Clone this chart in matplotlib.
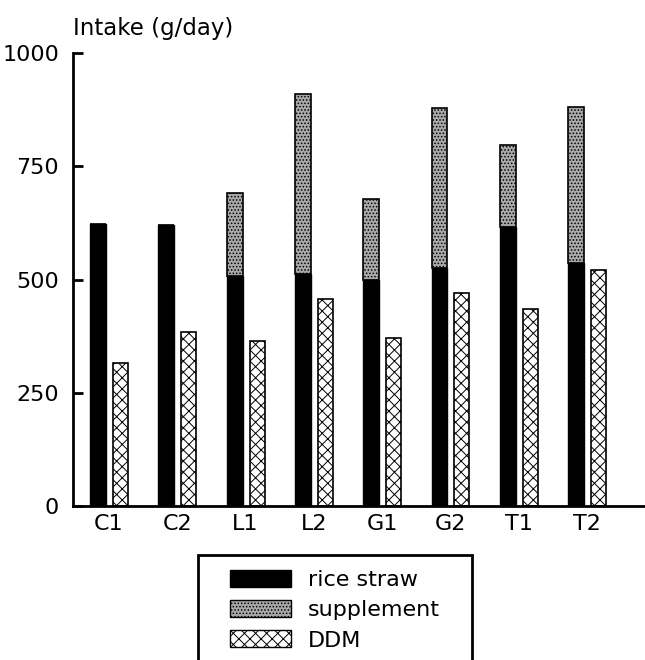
import numpy as np
import matplotlib
matplotlib.use("Agg")
import matplotlib.pyplot as plt
from matplotlib.patches import Patch, Rectangle

groups = ["C1", "C2", "L1", "L2", "G1", "G2", "T1", "T2"]
rice_straw = [623, 620, 508, 513, 498, 526, 615, 537]
total_intake = [623, 620, 691, 909, 678, 878, 797, 881]
ddm = [316, 385, 365, 458, 371, 471, 434, 521]
supplement = [t - r for t, r in zip(total_intake, rice_straw)]

plt.rcParams['font.family'] = ['DejaVu Sans']
plt.rcParams['hatch.linewidth'] = 0.7

fig = plt.figure(figsize=(6.45, 6.6), dpi=100)
ax = fig.add_axes([0.1132, 0.2333, 0.8868, 0.6864])

x = np.arange(len(groups))
ax.bar(x - 0.161, rice_straw, width=0.234, color='black', edgecolor='black')
ax.bar(x - 0.161, supplement, width=0.234, bottom=rice_straw,
       color='#a9a9a9', edgecolor='black', hatch='.....', linewidth=1.2)
ax.bar(x + 0.168, ddm, width=0.22, color='white', edgecolor='black',
       hatch='xxx', linewidth=1.2)

ax.set_xlim(-0.527, 7.848)
ax.set_ylim(0, 1000)
ax.set_yticks([0, 250, 500, 750, 1000])
ax.set_xticks(x)
ax.set_xticklabels(groups)
ax.tick_params(axis='y', direction='in', length=7, width=2, pad=10, labelsize=16)
ax.tick_params(axis='x', length=0, pad=6, labelsize=16)
for s in ['top', 'right']:
    ax.spines[s].set_visible(False)
ax.spines['left'].set_linewidth(2)
ax.spines['bottom'].set_linewidth(2)

fig.text(73 / 645, 1 - 28 / 660, "Intake (g/day)", fontsize=16.5, va='center', ha='left')

# legend frame, runs off the bottom edge as in the original
fig.patches.append(Rectangle((198 / 645, -0.05), 274 / 645, 0.05 + 105 / 660,
                             transform=fig.transFigure, fill=False,
                             edgecolor='black', linewidth=2))

handles = [Patch(facecolor='black', edgecolor='black', label='rice straw'),
           Patch(facecolor='#a9a9a9', edgecolor='black', hatch='.....', label='supplement'),
           Patch(facecolor='white', edgecolor='black', hatch='xxx', label='DDM')]
leg = fig.legend(handles=handles, loc='upper left', bbox_to_anchor=(230 / 645, 1 - 570 / 660),
                 fontsize=16, frameon=False,
                 handlelength=2.75, handleheight=0.8, handletextpad=0.75,
                 labelspacing=0.45, borderpad=0, borderaxespad=0)

fig.savefig("out.png", dpi=100)
